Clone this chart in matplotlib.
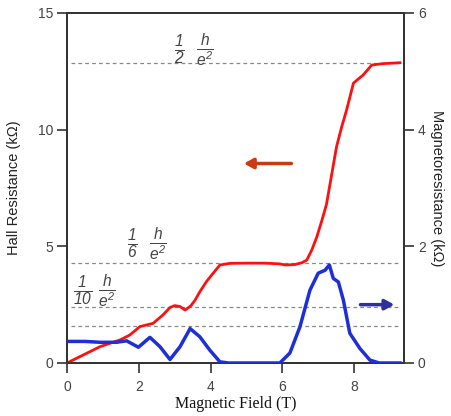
import matplotlib
matplotlib.use("Agg")
import matplotlib.pyplot as plt

# Hall resistance (kOhm) vs field (T)
hall_B = [0.0, 0.5, 0.92, 1.48, 1.75, 2.03, 2.4, 2.68, 2.87, 3.0, 3.15, 3.29, 3.45, 3.57, 3.7, 3.89, 4.1, 4.26, 4.54, 5.0, 5.5, 5.9, 6.1, 6.35, 6.55, 6.68, 6.82, 6.96, 7.1, 7.23, 7.4, 7.51, 7.65, 7.79, 7.98, 8.1, 8.25, 8.49, 8.8, 9.28]
hall_R = [0.0, 0.38, 0.7, 0.99, 1.2, 1.56, 1.7, 2.07, 2.38, 2.46, 2.42, 2.27, 2.45, 2.7, 3.05, 3.5, 3.9, 4.2, 4.27, 4.28, 4.28, 4.25, 4.2, 4.22, 4.3, 4.41, 4.84, 5.4, 6.1, 6.8, 8.3, 9.27, 10.1, 10.84, 11.99, 12.15, 12.34, 12.77, 12.83, 12.87]

# Magnetoresistance (kOhm) vs field (T)
mr_B = [0.0, 0.5, 0.92, 1.38, 1.66, 1.99, 2.31, 2.59, 2.87, 3.15, 3.43, 3.7, 3.98, 4.26, 4.5, 5.5, 5.93, 6.21, 6.49, 6.77, 7.0, 7.19, 7.31, 7.42, 7.56, 7.7, 7.88, 8.16, 8.44, 8.7, 9.28]
mr_M = [0.37, 0.37, 0.355, 0.355, 0.38, 0.27, 0.44, 0.28, 0.06, 0.28, 0.59, 0.45, 0.22, 0.02, 0.0, 0.0, 0.0, 0.17, 0.62, 1.25, 1.54, 1.59, 1.68, 1.45, 1.39, 1.08, 0.51, 0.25, 0.05, 0.0, 0.0]

# quantized plateau levels (kOhm)
plateau_levels = [12.85, 4.3, 2.4, 1.6]

W, H = 452, 416
fig = plt.figure(figsize=(W/100, H/100), dpi=100)
ax = fig.add_axes([67/W, 1-363/H, 337/W, 350/H])
ax2 = ax.twinx()

spine_c = "#333333"
tick_c = "#444444"

for lvl in plateau_levels:
    ax.hlines(lvl, 0.1, 9.25, colors="#888888", linestyles=(0, (3, 2.5)), linewidth=0.9)

ax.plot(hall_B, hall_R, color="#ff1010", linewidth=2.0, zorder=5)
ax2.plot(mr_B, mr_M, color="#1f2fd8", linewidth=2.5, zorder=5)

ax.set_xlim(0, 9.39)
ax.set_ylim(0, 15)
ax2.set_ylim(0, 6)
ax.set_xticks([0, 2, 4, 6, 8])
ax.set_yticks([0, 5, 10, 15])
ax2.set_yticks([0, 2, 4, 6])

for a in (ax, ax2):
    for s in a.spines.values():
        s.set_color(spine_c)
        s.set_linewidth(1.3)
    a.tick_params(direction="out", length=7, width=1.2, color=spine_c,
                  labelcolor=tick_c, labelsize=10, pad=3)
ax.tick_params(axis="x", pad=5)
for lab in ax.get_xticklabels() + ax.get_yticklabels() + ax2.get_yticklabels():
    lab.set_family("Liberation Sans")

ax.set_ylabel("Hall Resistance (kΩ)", family="Liberation Sans", fontsize=10.5, color="#222222", labelpad=12)
ax2.set_ylabel("Magnetoresistance (kΩ)", family="Liberation Sans", fontsize=10.5, color="#222222", rotation=270, labelpad=13)
ax.set_xlabel("Magnetic Field (T)", family="Liberation Serif", fontsize=11.5, color="#111111", labelpad=2)

plt.rcParams["mathtext.fontset"] = "custom"
plt.rcParams["mathtext.it"] = "Liberation Sans:italic"
plt.rcParams["mathtext.rm"] = "Liberation Sans:italic"

def frac_label(x1, x2, y, den):
    ax.text(x1, y, r"$\frac{\mathrm{1}}{\mathrm{%s}}$" % den, ha="center", va="center", fontsize=16, color="#444444")
    ax.text(x2, y, r"$\frac{h}{e^2}$", ha="center", va="center", fontsize=16, color="#444444")

frac_label(3.12, 3.85, 13.45, "2")
frac_label(1.81, 2.53, 5.1, "6")
frac_label(0.45, 1.1, 3.1, "10")

# direction arrows
ax.annotate("", xy=(4.85, 8.55), xytext=(6.33, 8.55),
            arrowprops=dict(arrowstyle="-|>,head_length=0.55,head_width=0.3", color="#cc3a14", lw=2.5))
ax.annotate("", xy=(9.2, 2.5), xytext=(8.1, 2.5),
            arrowprops=dict(arrowstyle="-|>,head_length=0.55,head_width=0.3", color="#2e2f9a", lw=2.5))

fig.savefig("out.png", dpi=100)
